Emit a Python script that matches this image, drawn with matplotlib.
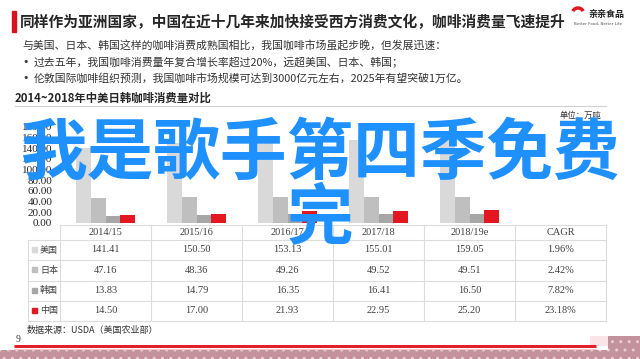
import matplotlib
matplotlib.use('Agg')
import matplotlib.pyplot as plt
import numpy as np
from matplotlib.patches import Rectangle, Arc

W, H = 640, 359

# 数据
years = ['2014/15', '2015/16', '2016/17', '2017/18', '2018/19e']
countries = ['美国', '日本', '韩国', '中国']
usa = [141.41, 150.50, 153.13, 155.01, 159.05]
japan = [47.16, 48.36, 49.26, 49.52, 49.51]
korea = [13.83, 14.79, 16.35, 16.41, 16.50]
china = [14.50, 17.00, 21.93, 22.95, 25.20]
cagr = ['1.96%', '2.42%', '7.82%', '23.18%']
y_ticks = [0, 20, 40, 60, 80, 100, 120, 140, 160, 180]

title = '同样作为亚洲国家，中国在近十几年来加快接受西方消费文化，咖啡消费量飞速提升'
intro = '与美国、日本、韩国这样的咖啡消费成熟国相比，我国咖啡市场虽起步晚，但发展迅速：'
bullets = ['过去五年，我国咖啡消费量年复合增长率超过20%，远超美国、日本、韩国；',
           '伦敦国际咖啡组织预测，我国咖啡市场规模可达到3000亿元左右，2025年有望突破1万亿。']
subtitle = '2014~2018年中美日韩咖啡消费量对比'
unit = '单位：万吨'
source = '数据来源：USDA（美国农业部）'
watermark = ['我是歌手第四季免费', '完']

series = [usa, japan, korea, china]
colors = ['#d9d9d9', '#bfbfbf', '#a6a6a6', '#e3171f']

CJK = ['Noto Sans CJK SC', 'DejaVu Sans']
SERIF = ['Liberation Serif', 'Noto Sans CJK SC']
TXT = '#333333'

fig = plt.figure(figsize=(6.4, 3.59), dpi=100)
bg = fig.add_axes([0, 0, 1, 1])
bg.set_xlim(0, W)
bg.set_ylim(H, 0)
bg.axis('off')

# 标题
bg.add_patch(Rectangle((12, 11), 3.5, 21, color='#d7141e'))
bg.text(20, 22, title, fontsize=10.6, weight='bold', family=CJK, color='#262626', va='center')

# logo
bg.add_patch(Arc((578, 13), 11, 10, theta1=200, theta2=340, color='#e3171f', lw=2.5))
bg.text(606, 15, '亲亲食品', fontsize=6.5, weight='bold', family=CJK, ha='center', va='center', color='#222222')
bg.text(598, 24, 'Better Food, Better Life', fontsize=3, ha='center', va='center', color='#555555')

# 正文
bg.text(22, 45, intro, fontsize=7.8, family=CJK, va='center', color=TXT)
for i, b in enumerate(bullets):
    y = 62 + 16 * i
    bg.text(22, y, '•', fontsize=7.8, va='center', color=TXT)
    bg.text(34, y, b, fontsize=7.8, family=CJK, va='center', color=TXT)

bg.text(15, 98, subtitle, fontsize=8.2, weight='bold', family=CJK, va='center', color='#262626')
bg.plot([15, 606], [106, 106], color='#d0d0d0', lw=0.8)
bg.text(601, 115, unit, fontsize=6, family=CJK, ha='right', va='center', color=TXT)

# 柱状图
L, R, T, B = 60, 515, 127, 223
ax = fig.add_axes([L / W, 1 - B / H, (R - L) / W, (B - T) / H])
ax.patch.set_alpha(0)
x = np.arange(len(years))
w = 0.16
for k, (vals, c) in enumerate(zip(series, colors)):
    ax.bar(x + (k - 1.5) * w, vals, w, color=c)
ax.set_xlim(-0.5, len(years) - 0.5)
ax.set_ylim(0, 180)
ax.set_yticks(y_ticks)
ax.set_yticklabels([f'{v:.2f}' for v in y_ticks], family=SERIF, fontsize=8, color='#262626')
ax.set_xticks([])
ax.tick_params(length=0, pad=5.5)
for s in ax.spines.values():
    s.set_visible(False)

# 表格
cols = [60 + 91 * i for i in range(7)]
rows = [225, 240, 260, 280.5, 300.5, 321]
lc = '#dcdcdc'
bg.plot([cols[0], cols[-1]], [rows[0], rows[0]], color=lc, lw=0.8)
for r in rows[1:]:
    bg.plot([28, cols[-1]], [r, r], color=lc, lw=0.8)
for c in cols:
    bg.plot([c, c], [rows[0], rows[-1]], color=lc, lw=0.8)
bg.plot([28, 28], [rows[1], rows[-1]], color=lc, lw=0.8)

headers = years + ['CAGR']
for j, h in enumerate(headers):
    bg.text((cols[j] + cols[j + 1]) / 2, (rows[0] + rows[1]) / 2, h, fontsize=7.5,
            family=SERIF, ha='center', va='center', color='#404040')
for i, (name, vals, c) in enumerate(zip(countries, series, colors)):
    yc = (rows[i + 1] + rows[i + 2]) / 2
    bg.add_patch(Rectangle((32, yc - 3), 5, 5, color=c))
    bg.text(40, yc, name, fontsize=6.5, family=CJK, va='center', color='#404040')
    for j, v in enumerate(vals):
        bg.text((cols[j] + cols[j + 1]) / 2, yc, f'{v:.2f}', fontsize=7.5,
                family=SERIF, ha='center', va='center', color='#404040')
    bg.text((cols[5] + cols[6]) / 2, yc, cagr[i], fontsize=7.5,
            family=SERIF, ha='center', va='center', color='#404040')

bg.text(27, 331, source, fontsize=6.5, family=CJK, va='center', color=TXT)
bg.text(16, 339, '9', fontsize=7, family=SERIF, va='center', color=TXT)

# 底部装饰
bg.add_patch(Rectangle((590, 336), 18, 10, facecolor='#fbe4e8', lw=0))
bg.add_patch(Rectangle((0, 350), W, 9, facecolor='#c4929a', hatch='..', edgecolor='#e6cdd1', lw=0))
bg.add_patch(Rectangle((608, 336), 32, 23, facecolor='#c4929a', hatch='..', edgecolor='#e6cdd1', lw=0))
bg.plot([14, 596], [346, 346], color='#e0202a', lw=2.2, solid_capstyle='butt')
bg.plot([14, 596], [349, 349], color='#f4b8bd', lw=0.6)

# 水印
fig.text(321 / W, 1 - 154 / H, watermark[0], fontsize=48, weight='bold', family=CJK,
         color='#1e90ff', ha='center', va='center', zorder=10)
fig.text(320 / W, 1 - 220 / H, watermark[1], fontsize=48, weight='bold', family=CJK,
         color='#1e90ff', ha='center', va='center', zorder=10)

fig.savefig('out.png', dpi=100)
